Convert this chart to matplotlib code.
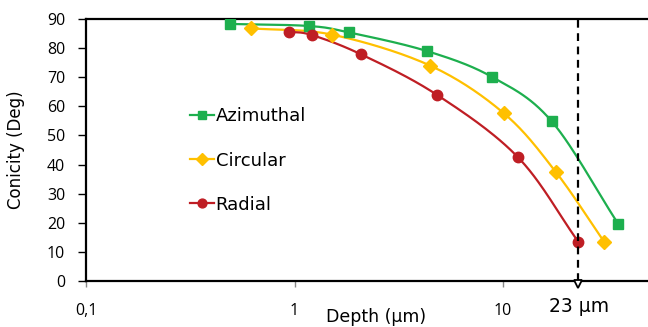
import numpy as np
import matplotlib
matplotlib.use("Agg")
import matplotlib.pyplot as plt

# ---- data ----
az_x = [0.49, 1.17, 1.82, 4.31, 8.86, 17.1, 35.7]
az_y = [88.3, 87.6, 85.4, 79.0, 70.1, 54.9, 19.6]
ci_x = [0.62, 1.52, 4.47, 10.1, 17.9, 30.6]
ci_y = [86.8, 84.6, 74.0, 57.6, 37.5, 13.4]
ra_x = [0.944, 1.21, 2.08, 4.81, 11.8, 23.0]
ra_y = [85.6, 84.5, 77.9, 64.0, 42.5, 13.4]
marker_depth = 23
xticks = [0.1, 1, 10]
xticklabels = ["0,1", "1", "10"]
yticks = list(range(0, 91, 10))

FONT = ["Open Sans", "DejaVu Sans"]
WIDE = ["DejaVu Sans"]
plt.rcParams['font.family'] = FONT


def smooth(xs, ys, n=30):
    """Catmull-Rom smoothing in log10(x) space (display smoothing, like Excel)."""
    lx = np.log10(np.asarray(xs, float))
    y = np.asarray(ys, float)
    P = np.column_stack([lx, y])
    P = np.vstack([2 * P[0] - P[1], P, 2 * P[-1] - P[-2]])
    out = []
    t = np.linspace(0, 1, n)[:, None]
    for i in range(1, len(P) - 2):
        p0, p1, p2, p3 = P[i - 1], P[i], P[i + 1], P[i + 2]
        seg = 0.5 * ((2 * p1) + (-p0 + p2) * t + (2 * p0 - 5 * p1 + 4 * p2 - p3) * t ** 2
                     + (-p0 + 3 * p1 - 3 * p2 + p3) * t ** 3)
        out.append(seg)
    S = np.vstack(out)
    return 10 ** S[:, 0], S[:, 1]


fig = plt.figure(figsize=(6.48, 3.27), dpi=100)
W, H = 648, 327
left, right, top, bottom = 86, 650, 19, 281
ax = fig.add_axes([left / W, 1 - bottom / H, (right - left) / W, (bottom - top) / H])
ax.set_xscale("log")
ax.set_xlim(0.1, 10 ** ((right - left) / 208.5 - 1))
ax.set_ylim(0, 90)

series = [
    (az_x, az_y, "#1DAF4E", "s", 7, "Azimuthal"),
    (ci_x, ci_y, "#FFC000", "D", 7, "Circular"),
    (ra_x, ra_y, "#BF1E24", "o", 7.5, "Radial"),
]
handles = []
for xs, ys, c, m, ms, lab in series:
    sx, sy = smooth(xs, ys)
    ax.plot(sx, sy, color=c, lw=1.6, zorder=3)
    ax.plot(xs, ys, ls="none", marker=m, ms=ms, color=c, mec=c, zorder=4)
    h, = ax.plot([], [], color=c, lw=1.6, marker=m, ms=ms * 0.85, label=lab)
    handles.append(h)

# dashed vertical marker at 23 um
ax.plot([marker_depth, marker_depth], [0, 91], ls=(0, (3.5, 2.5)), color="black",
        lw=1.6, clip_on=False, zorder=5)
ax.plot([marker_depth], [-1.2], marker="v", ms=6, mfc="white", mec="black", mew=1.3,
        clip_on=False, zorder=6)
ax.text(marker_depth * 1.01, -5.5, "23 µm", ha="center", va="top", fontsize=13.5,
        family=WIDE, transform=ax.transData)

ax.set_xticks(xticks)
ax.set_xticklabels(xticklabels)
ax.xaxis.set_minor_locator(matplotlib.ticker.NullLocator())
ax.set_yticks(yticks)
ax.tick_params(axis="y", labelsize=11.5, length=6, width=1, direction="out", pad=9)
ax.tick_params(axis="x", labelsize=11.5, length=4, width=1, direction="out", pad=12,
               color="#888888")

for s in ["left", "bottom", "top"]:
    ax.spines[s].set_linewidth(1.6)
ax.spines["right"].set_visible(False)

ax.set_ylabel("Conicity (Deg)", fontsize=12, family=WIDE)
ax.yaxis.set_label_coords(-(left - 25) / (right - left), 0.5)
ax.set_xlabel("Depth (µm)", fontsize=12.5, family=WIDE, va="top")
ax.xaxis.set_label_coords((376 - left) / (right - left), -(308 - bottom) / (bottom - top))

leg = ax.legend(handles=handles, loc="upper left", bbox_to_anchor=(0.172, 0.69),
                frameon=False, prop={"family": WIDE, "size": 13}, handlelength=1.3,
                handletextpad=0.1, labelspacing=1.45, borderaxespad=0)

fig.savefig("out.png", dpi=100)
